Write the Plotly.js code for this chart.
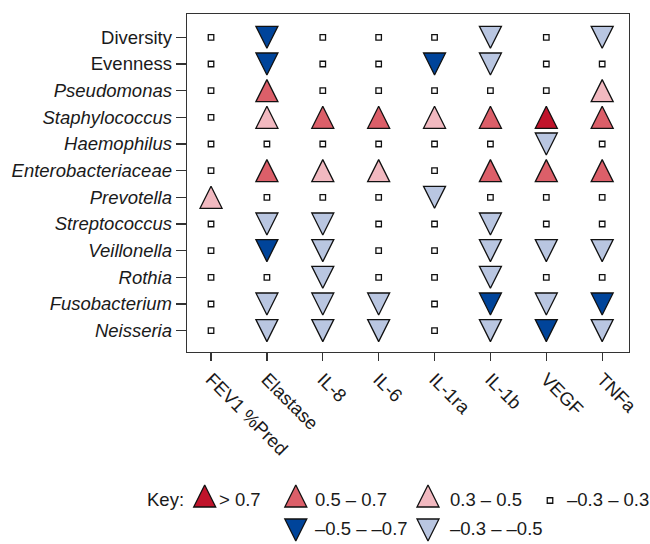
<!DOCTYPE html>
<html><head><meta charset="utf-8">
<script src="https://cdn.plot.ly/plotly-3.0.1.min.js"></script>
<style>html,body{margin:0;padding:0;background:#fff}#chart{width:650px;height:544px}</style>
</head><body><div id="chart"></div>
<script>
// ---- data ----
const measures = ['FEV1 %Pred','Elastase','IL-8','IL-6','IL-1ra','IL-1b','VEGF','TNFa'];
const taxa = ['Diversity','Evenness','Pseudomonas','Staphylococcus','Haemophilus','Enterobacteriaceae',
              'Prevotella','Streptococcus','Veillonella','Rothia','Fusobacterium','Neisseria'];
const italicTaxa = [false,false,true,true,true,true,true,true,true,true,true,true];
// correlation bin per taxon (in taxa order) for each measure
// p3: > 0.7, p2: 0.5–0.7, p1: 0.3–0.5, ns: –0.3–0.3, n2: –0.5––0.7, n1: –0.3––0.5
const FEV1     = ['ns','ns','ns','ns','ns','ns','p1','ns','ns','ns','ns','ns'];
const Elastase = ['n2','n2','p2','p1','ns','p2','ns','n1','n2','ns','n1','n1'];
const IL8      = ['ns','ns','ns','p2','ns','p1','ns','n1','n1','n1','n1','n1'];
const IL6      = ['ns','ns','ns','p2','ns','p1','ns','ns','ns','ns','n1','n1'];
const IL1ra    = ['ns','n2','ns','p1','ns','ns','n1','ns','ns','ns','ns','ns'];
const IL1b     = ['n1','n1','ns','p2','ns','p2','ns','n1','n1','n1','n2','n1'];
const VEGF     = ['ns','ns','ns','p3','n1','p2','ns','ns','n1','ns','n1','n2'];
const TNFa     = ['n1','ns','p1','p2','ns','p2','ns','ns','n1','ns','n2','n1'];
const binCodes  = ['p3','p2','p1','ns','n2','n1'];
const binLabels = ['> 0.7','0.5 – 0.7','0.3 – 0.5','–0.3 – 0.3','–0.5 – –0.7','–0.3 – –0.5'];

// ---- styles ----
const columns = [FEV1, Elastase, IL8, IL6, IL1ra, IL1b, VEGF, TNFa];
const TRI = 22, SQ = 5.5;
const binStyle = {
  p3: {symbol:'arrow-up',   color:'#c0142b', size:TRI, dir: 1},
  p2: {symbol:'arrow-up',   color:'#dc5f69', size:TRI, dir: 1},
  p1: {symbol:'arrow-up',   color:'#f2b9c0', size:TRI, dir: 1},
  ns: {symbol:'square',     color:'#ffffff', size:SQ,  dir: 0},
  n2: {symbol:'arrow-down', color:'#00449a', size:TRI, dir:-1},
  n1: {symbol:'arrow-down', color:'#b9c6e1', size:TRI, dir:-1}
};
const W = 650, H = 544;
const box = {l:187, r:629, t:14, b:352};
const xRange = [-0.43, 7.48], yRange = [-0.8, 11.874];
const pxPerY = (box.b - box.t) / (yRange[1] - yRange[0]);
const font = 'Liberation Sans, Arial, sans-serif';
const FS = 18.5;
const txt = '#1a1a1a';

const traces = [];
binCodes.forEach(code => {
  const st = binStyle[code];
  const xs = [], ys = [];
  columns.forEach((col, ci) => col.forEach((v, ti) => {
    if (v === code) {
      xs.push(ci);
      // arrow markers have their tip at the point: shift so the triangle is centred on the row
      ys.push((taxa.length - 1 - ti) + st.dir * (st.size / 2) / pxPerY);
    }
  }));
  traces.push({
    type:'scatter', mode:'markers', x:xs, y:ys, xaxis:'x', yaxis:'y',
    marker:{symbol:st.symbol, size:st.size, color:st.color, line:{color:'#111', width:1.3}},
    cliponaxis:false, hoverinfo:'skip'
  });
});

// ---- key (drawn in page-pixel axes x2/y2) ----
const keyPos = {p3:[204.7,496], p2:[295.8,496], p1:[428,496], ns:[550,500.5], n2:[295.8,530], n1:[428,530]};
const keyTextX = {p3:217, p2:313, p1:448, ns:565, n2:313, n1:448};
const keyRowY = {p3:499, p2:499, p1:499, ns:499, n2:528, n1:528};
const annotations = [{xref:'x2', yref:'y2', x:145, y:499, xanchor:'left', yanchor:'middle',
  text:'Key:', showarrow:false, font:{family:font, size:FS, color:txt}}];
binCodes.forEach((code, i) => {
  const st = binStyle[code];
  traces.push({
    type:'scatter', mode:'markers', xaxis:'x2', yaxis:'y2',
    x:[keyPos[code][0]], y:[keyPos[code][1] - st.dir * st.size / 2],
    marker:{symbol:st.symbol, size:st.size, color:st.color, line:{color:'#111', width:1.3}},
    cliponaxis:false, hoverinfo:'skip'
  });
  annotations.push({xref:'x2', yref:'y2', x:keyTextX[code], y:keyRowY[code], xanchor:'left', yanchor:'middle',
    text:binLabels[i], showarrow:false, font:{family:font, size:FS, color:txt}});
});

const axisCommon = {showgrid:false, zeroline:false, showline:true, mirror:true, linecolor:'#333', linewidth:1.3,
  ticks:'outside', tickcolor:'#333', tickwidth:1.3, tickfont:{family:font, size:FS, color:txt}, fixedrange:true};

const layout = {
  width:W, height:H, margin:{l:0, r:0, t:0, b:0, pad:0},
  paper_bgcolor:'#fff', plot_bgcolor:'rgba(0,0,0,0)', showlegend:false, hovermode:false,
  xaxis:Object.assign({}, axisCommon, {domain:[box.l/W, box.r/W], range:xRange, ticklen:8, tickangle:45,
    tickmode:'array', tickvals:measures.map((_, i) => i), ticktext:measures, anchor:'y'}),
  yaxis:Object.assign({}, axisCommon, {domain:[1 - box.b/H, 1 - box.t/H], range:yRange, ticklen:10,
    tickmode:'array', tickvals:taxa.map((_, i) => taxa.length - 1 - i),
    ticktext:taxa.map((t, i) => italicTaxa[i] ? '<i>' + t + '</i>' : t), anchor:'x'}),
  xaxis2:{domain:[0,1], range:[0,W], visible:false, anchor:'y2', fixedrange:true},
  yaxis2:{domain:[0,1], range:[H,0], visible:false, anchor:'x2', fixedrange:true},
  annotations:annotations
};
Plotly.newPlot('chart', traces, layout, {staticPlot:true, displayModeBar:false});
</script>
</body></html>
